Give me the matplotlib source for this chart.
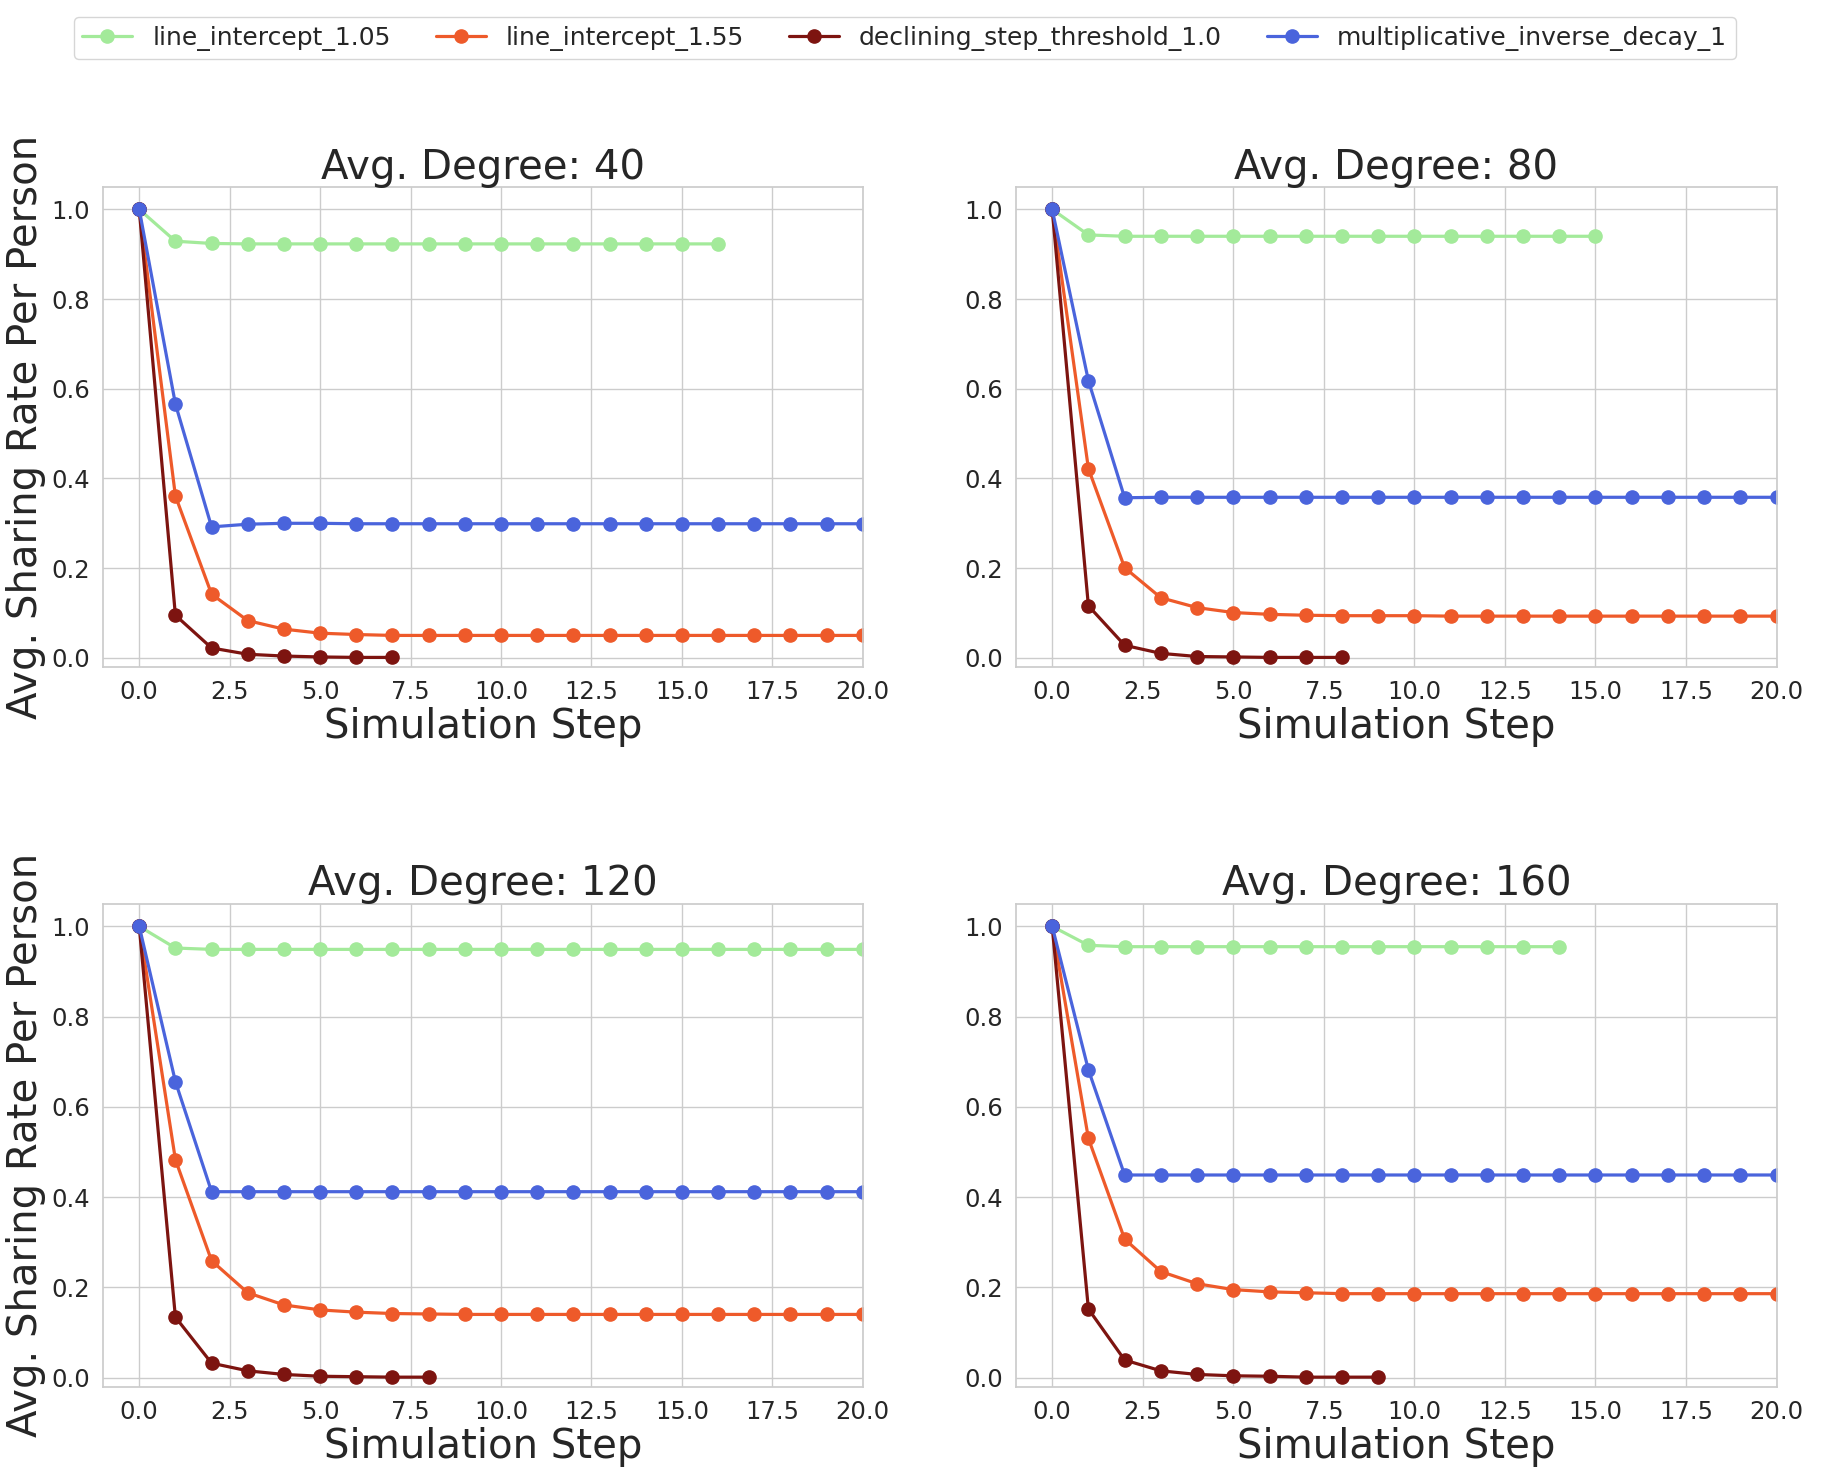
import matplotlib
matplotlib.use("Agg")
import matplotlib.pyplot as plt
import seaborn as sns

sns.set_theme(style="whitegrid")
plt.rcParams['font.family'] = ['DejaVu Sans']

degrees = [40, 80, 120, 160]
series_names = ["line_intercept_1.05", "line_intercept_1.55",
                "declining_step_threshold_1.0", "multiplicative_inverse_decay_1"]
colors = ["#a3ea9a", "#ee5a2a", "#7d1410", "#4a64dc"]

# Degree 40
d40_li105 = [1.0, 0.929, 0.924, 0.923, 0.923, 0.923, 0.923, 0.923, 0.923, 0.923,
             0.923, 0.923, 0.923, 0.923, 0.923, 0.923, 0.923]
d40_li155 = [1.0, 0.361, 0.142, 0.083, 0.064, 0.055, 0.052, 0.050, 0.050, 0.050,
             0.050, 0.050, 0.050, 0.050, 0.050, 0.050, 0.050, 0.050, 0.050, 0.050, 0.050]
d40_dst = [1.0, 0.095, 0.022, 0.008, 0.004, 0.002, 0.001, 0.001]
d40_mid = [1.0, 0.566, 0.292, 0.298, 0.300, 0.300, 0.299, 0.299, 0.299, 0.299,
           0.299, 0.299, 0.299, 0.299, 0.299, 0.299, 0.299, 0.299, 0.299, 0.299, 0.299]

# Degree 80
d80_li105 = [1.0, 0.943, 0.940, 0.940, 0.940, 0.940, 0.940, 0.940, 0.940, 0.940,
             0.940, 0.940, 0.940, 0.940, 0.940, 0.940]
d80_li155 = [1.0, 0.422, 0.201, 0.134, 0.112, 0.101, 0.097, 0.095, 0.094, 0.094,
             0.094, 0.093, 0.093, 0.093, 0.093, 0.093, 0.093, 0.093, 0.093, 0.093, 0.093]
d80_dst = [1.0, 0.116, 0.028, 0.010, 0.003, 0.002, 0.001, 0.001, 0.001]
d80_mid = [1.0, 0.618, 0.357, 0.358, 0.358, 0.358, 0.358, 0.358, 0.358, 0.358,
           0.358, 0.358, 0.358, 0.358, 0.358, 0.358, 0.358, 0.358, 0.358, 0.358, 0.358]

# Degree 120
d120_li105 = [1.0, 0.952, 0.949, 0.949, 0.949, 0.949, 0.949, 0.949, 0.949, 0.949,
              0.949, 0.949, 0.949, 0.949, 0.949, 0.949, 0.949, 0.949, 0.949, 0.949, 0.949]
d120_li155 = [1.0, 0.483, 0.259, 0.188, 0.161, 0.150, 0.145, 0.142, 0.141, 0.140,
              0.140, 0.140, 0.140, 0.140, 0.140, 0.140, 0.140, 0.140, 0.140, 0.140, 0.140]
d120_dst = [1.0, 0.134, 0.032, 0.015, 0.007, 0.003, 0.002, 0.001, 0.001]
d120_mid = [1.0, 0.656, 0.412, 0.412, 0.412, 0.412, 0.412, 0.412, 0.412, 0.412,
            0.412, 0.412, 0.412, 0.412, 0.412, 0.412, 0.412, 0.412, 0.412, 0.412, 0.412]

# Degree 160
d160_li105 = [1.0, 0.958, 0.955, 0.955, 0.955, 0.955, 0.955, 0.955, 0.955, 0.955,
              0.955, 0.955, 0.955, 0.955, 0.955]
d160_li155 = [1.0, 0.530, 0.307, 0.235, 0.208, 0.195, 0.190, 0.188, 0.186, 0.186,
              0.186, 0.186, 0.186, 0.186, 0.186, 0.186, 0.186, 0.186, 0.186, 0.186, 0.186]
d160_dst = [1.0, 0.152, 0.039, 0.015, 0.007, 0.004, 0.003, 0.001, 0.001, 0.001]
d160_mid = [1.0, 0.682, 0.449, 0.449, 0.449, 0.449, 0.449, 0.449, 0.449, 0.449,
            0.449, 0.449, 0.449, 0.449, 0.449, 0.449, 0.449, 0.449, 0.449, 0.449, 0.449]

all_data = [
    [d40_li105, d40_li155, d40_dst, d40_mid],
    [d80_li105, d80_li155, d80_dst, d80_mid],
    [d120_li105, d120_li155, d120_dst, d120_mid],
    [d160_li105, d160_li155, d160_dst, d160_mid],
]

fig = plt.figure(figsize=(18.24, 14.72), dpi=100)
positions = [
    [0.0565, 0.547, 0.4165, 0.326],
    [0.557, 0.547, 0.417, 0.326],
    [0.0565, 0.058, 0.4165, 0.328],
    [0.557, 0.058, 0.417, 0.328],
]

handles = []
for i, (deg, data) in enumerate(zip(degrees, all_data)):
    ax = fig.add_axes(positions[i])
    for name, col, vals in zip(series_names, colors, data):
        x = list(range(len(vals)))
        h, = ax.plot(x, vals, color=col, marker='o', markersize=9.5,
                     linewidth=2.3, label=name)
        if i == 0:
            handles.append(h)
    ax.set_xlim(-1, 20)
    ax.set_ylim(-0.02, 1.05)
    ax.set_xticks([0, 2.5, 5, 7.5, 10, 12.5, 15, 17.5, 20])
    ax.set_xticklabels(["0.0", "2.5", "5.0", "7.5", "10.0", "12.5", "15.0", "17.5", "20.0"])
    ax.set_yticks([0.0, 0.2, 0.4, 0.6, 0.8, 1.0])
    ax.tick_params(axis='both', labelsize=17.5)
    ax.set_title(f"Avg. Degree: {deg}", fontsize=29)
    ax.set_xlabel("Simulation Step", fontsize=29, labelpad=2)
    if i % 2 == 0:
        ax.set_ylabel("Avg. Sharing Rate Per Person", fontsize=29)

fig.legend(handles=handles, labels=series_names, loc='upper center',
           bbox_to_anchor=(0.496, 0.997), ncol=4, fontsize=18,
           frameon=True, columnspacing=1.8, handlelength=2.0, borderpad=0.35)

fig.savefig("out.png", dpi=100)
